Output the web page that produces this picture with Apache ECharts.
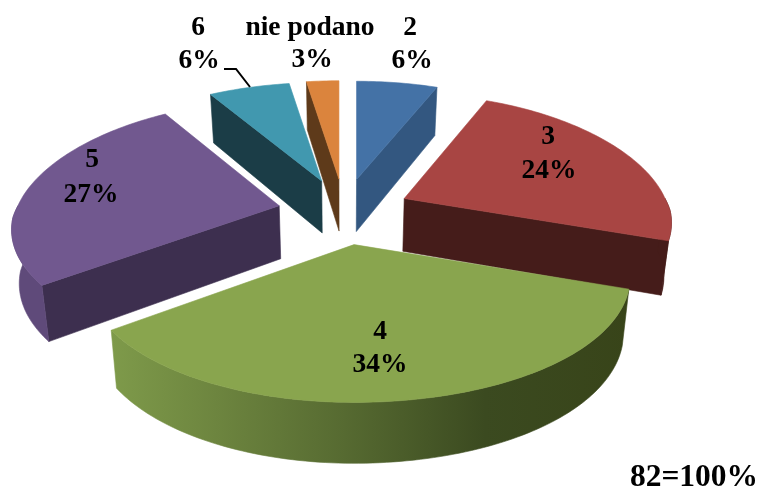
<!DOCTYPE html>
<html><head><meta charset="utf-8">
<style>html,body{margin:0;padding:0;background:#fff}#c{width:765px;height:493px}</style>
<script src="https://cdn.jsdelivr.net/npm/echarts@6/dist/echarts.min.js"></script>
</head><body><div id="c"></div>
<script>
// data (clockwise from 12 o'clock)
const categories = ['2', '3', '4', '5', '6', 'nie podano'];
const sliceValues = [5, 20, 28, 22, 5, 2];   // estimated counts out of 82, from the slice angles
const percentLabels = ['6%', '24%', '34%', '27%', '6%', '3%'];
const totalNote = '82=100%';

// styles
const topColors = ['#4472a6', '#a84543', '#89a54e', '#71588f', '#4198af', '#db843d'];
const faceColors = ['#335780', '#451c1a', '#384419', '#3d2f4f', '#1b3d47', '#5e3a1a'];
const rimColors = ['#335780', '#451c1a', '#384419', '#5f4a7a', '#1b3d47', '#5e3a1a'];

// layout of the tilted pie
const cx = 344, cy = 212, explodeX = 66, explodeY = 33;
const radiusX = 255, radiusY = 118;
const labelFont = 'bold 27.5px "Liberation Serif", serif';
const labelLayout = [
  [[410, 28], [412, 61]],
  [[548, 137], [549, 171]],
  [[380, 332], [380, 365]],
  [[92, 160], [91, 195]],
  [[198, 28], [199, 61]],
  [[310, 28], [312, 60]]
];

const total = sliceValues.reduce((a, b) => a + b, 0);
const spans = [];
sliceValues.reduce((acc, v) => { spans.push([acc / total * 2 * Math.PI, (acc + v) / total * 2 * Math.PI]); return acc + v; }, 0);

function apexOf(i) {
  const m = (spans[i][0] + spans[i][1]) / 2;
  return [cx + explodeX * Math.sin(m), cy - explodeY * Math.cos(m), Math.max(0, -Math.cos(m)), Math.abs(Math.sin(m))];
}
function rimPoint(apex, t) {
  const X = Math.sin(t), Y = -Math.cos(t), near = apex[2], lateral = apex[3] > 0.5 ? apex[3] : 0;
  const px = Y < 0 ? 0.2 : 0.24, py = Y < 0 ? 0.2 : 0.23;
  const nearX = 0.046 * near * (X > 0 ? 1 : 0.43);
  const wideX = 1 + 0.025 * lateral * Math.min(1, Math.max(0, (0.6 - Y) / 0.5));
  const tallY = 1 - 0.07 * Y * lateral;
  return [apex[0] + radiusX * X / (1 - px * Y - nearX) * wideX,
          apex[1] + radiusY * Y / (1 - py * Y) * (1 + 0.03 * near) * tallY];
}
function below(p) {
  return [cx + (p[0] - cx) * 0.977, p[1] + 48 + 0.04 * (p[1] - 80)];
}
function arc(apex, a, b) {
  const pts = [], n = Math.max(2, Math.ceil((b - a) / 0.02));
  for (let k = 0; k <= n; k++) pts.push(rimPoint(apex, a + (b - a) * k / n));
  return pts;
}
function poly(points, fill) {
  return { type: 'polygon', shape: { points }, style: { fill, stroke: fill, lineWidth: 0.6 } };
}
const rimGradient4 = new echarts.graphic.LinearGradient(112, 0, 630, 0, [
  { offset: 0, color: '#7e9a4a' }, { offset: 0.2, color: '#6d853f' }, { offset: 0.45, color: '#566a31' },
  { offset: 0.72, color: '#3b4a20' }, { offset: 1, color: '#384419' }
], true);

function renderSlice(params) {
  const dataI = order[params.dataIndex];
  const [s, e] = spans[dataI];
  const apex = apexOf(dataI), top = [apex[0], apex[1]], children = [];
  // radial faces turned toward the viewer
  [[s, -1], [e, 1]].forEach(([t, sign]) => {
    if (sign * Math.sin(t) > 1e-6) {
      const p = rimPoint(apex, t);
      children.push(poly([top, p, below(p), below(top)], faceColors[dataI]));
    }
  });
  // outer wall, front half only
  const a = Math.max(s, Math.PI / 2), b = Math.min(e, 3 * Math.PI / 2);
  if (b > a) {
    const r = arc(apex, a, b);
    const fill = categories[dataI] === '4' ? rimGradient4 : rimColors[dataI];
    children.push(poly(r.concat(r.map(below).reverse()), fill));
  }
  // top surface
  children.push(poly([top].concat(arc(apex, s, e)), topColors[dataI]));
  // label
  [categories[dataI], percentLabels[dataI]].forEach((text, k) => {
    const pos = labelLayout[dataI][k];
    children.push({ type: 'text', style: { text, x: pos[0], y: pos[1], font: labelFont, fill: '#000', align: 'center', verticalAlign: 'middle' } });
  });
  return { type: 'group', children };
}

// paint from the back to the front
const order = sliceValues.map((_, i) => i).sort((p, q) => {
  const mid = j => -Math.cos((spans[j][0] + spans[j][1]) / 2);
  return mid(p) - mid(q);
});

const chart = echarts.init(document.getElementById('c'), null, { renderer: 'canvas' });
chart.setOption({
  animation: false,
  backgroundColor: '#fff',
  series: [{
    type: 'custom',
    coordinateSystem: 'none',
    silent: true,
    data: order.map(i => ({ name: categories[i], value: sliceValues[i] })),
    renderItem: renderSlice
  }],
  graphic: [
    { type: 'polyline', z: 10, shape: { points: [[224, 69], [236, 69], [250, 87]] }, style: { stroke: '#000', lineWidth: 2, fill: null } },
    { type: 'text', z: 10, style: { text: totalNote, x: 694, y: 478, font: 'bold 31.5px "Liberation Serif", serif', fill: '#000', align: 'center', verticalAlign: 'middle' } }
  ]
});
</script></body></html>
